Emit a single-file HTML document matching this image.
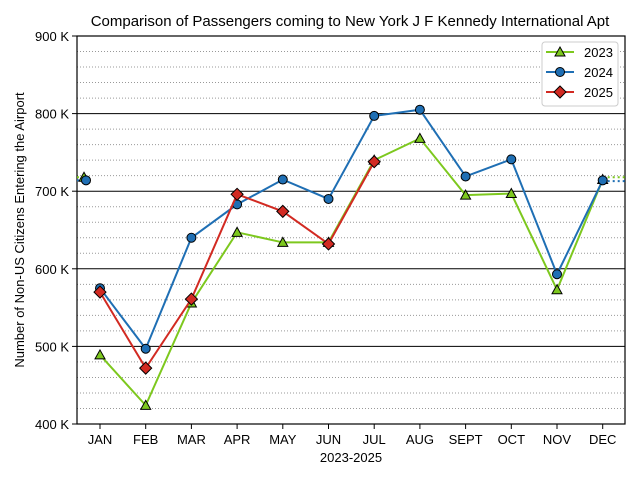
<!DOCTYPE html>
<html><head><meta charset="utf-8"><style>
body{margin:0;background:#fff;}
svg{font-family:"Liberation Sans",sans-serif;}
</style></head><body>
<svg id="chart" width="640" height="480"></svg>
<script>
const categories=["JAN","FEB","MAR","APR","MAY","JUN","JUL","AUG","SEPT","OCT","NOV","DEC"];
const s2023=[489,424,556,647,634,634,740,768,695,697,573,715];
const s2024=[575,497,640,683,715,690,797,805,719,741,593,714];
const s2025=[570,472,561,696,674,632,738];
const wrapPrev2023=718, wrapPrev2024=714;
const yTicks=[400,500,600,700,800,900];
const yTickLabels=["400 K","500 K","600 K","700 K","800 K","900 K"];
const NS="http://www.w3.org/2000/svg";
const svg=document.getElementById('chart');
const L=77,R=625,T=36,B=424;
const x=i=>100+i*45.7;
const y=v=>B-(v-400)*(B-T)/500;
function mk(t,a,p){const e=document.createElementNS(NS,t);for(const k in a)e.setAttribute(k,a[k]);(p||svg).appendChild(e);return e;}
for(let v=420;v<900;v+=20){if(v%100===0)continue;
const g=mk('line',{x1:L,x2:R,y1:y(v),y2:y(v),stroke:'#999','stroke-dasharray':'1,2','stroke-width':1});

}
yTicks.forEach((v,i)=>{
const g=mk('line',{x1:L,x2:R,y1:y(v),y2:y(v),stroke:'#000','stroke-width':1});


mk('line',{x1:L-5,x2:L,y1:y(v),y2:y(v),stroke:'#000'});
const t=mk('text',{x:L-8,y:y(v)+5,'text-anchor':'end','font-size':13});t.textContent=yTickLabels[i];

});
categories.forEach((c,i)=>{
mk('line',{x1:x(i),x2:x(i),y1:B,y2:B+5,stroke:'#000'});
const t=mk('text',{x:x(i),y:B+20,'text-anchor':'middle','font-size':13});t.textContent=c;

});
mk('rect',{x:L,y:T,width:R-L,height:B-T,fill:'none',stroke:'#000','stroke-width':1.2});
const cols={a:'#7dc81e',b:'#1f6fb4',c:'#d22a22'};
function dotted(v,col,x1,x2){mk('line',{x1:x1,x2:x2,y1:y(v),y2:y(v),stroke:col,'stroke-width':2,'stroke-dasharray':'2,3'});}
dotted(wrapPrev2023,cols.a,L,86);dotted(wrapPrev2024,cols.b,L,86);
dotted(s2023[11]+3,cols.a,x(11),R);dotted(s2024[11]-1,cols.b,x(11),R);
function marker(kind,cx,cy,col,g){
if(kind==='tri')return mk('polygon',{points:`${cx},${cy-5} ${cx+5},${cy+4} ${cx-5},${cy+4}`,fill:col,stroke:'#000','stroke-width':1},g);
if(kind==='circ')return mk('circle',{cx:cx,cy:cy,r:4.5,fill:col,stroke:'#000','stroke-width':1},g);
return mk('polygon',{points:`${cx},${cy-6} ${cx+6},${cy} ${cx},${cy+6} ${cx-6},${cy}`,fill:col,stroke:'#000','stroke-width':1},g);}
marker('tri',84,y(wrapPrev2023),cols.a);marker('circ',86,y(wrapPrev2024),cols.b);
function series(data,col,kind,name){
const g=mk('g',{});
mk('polyline',{points:data.map((v,i)=>x(i)+','+y(v)).join(' '),fill:'none',stroke:col,'stroke-width':2},g);
data.forEach((v,i)=>{const m=marker(kind,x(i),y(v),col,g);

});}
series(s2023,cols.a,'tri','series-2023');
series(s2024,cols.b,'circ','series-2024');
series(s2025,cols.c,'dia','series-2025');
const lg=mk('g',{});
mk('rect',{x:542,y:42,width:76,height:64,rx:3,fill:'#fff',stroke:'#ccc'},lg);
[["2023",cols.a,'tri'],["2024",cols.b,'circ'],["2025",cols.c,'dia']].forEach((e,i)=>{
const yy=52+i*20;mk('line',{x1:546,x2:574,y1:yy,y2:yy,stroke:e[1],'stroke-width':2},lg);
marker(e[2],560,yy,e[1],lg);
const t=mk('text',{x:584,y:yy+5,'font-size':13},lg);t.textContent=e[0];

});
const ti=mk('text',{x:350,y:26,'text-anchor':'middle','font-size':15});ti.textContent='Comparison of Passengers coming to New York J F Kennedy International Apt';

const xl=mk('text',{x:351,y:462,'text-anchor':'middle','font-size':13});xl.textContent='2023-2025';

const yl=mk('text',{x:24,y:230,'text-anchor':'middle','font-size':13,transform:'rotate(-90 24 230)'});yl.textContent='Number of Non-US Citizens Entering the Airport';

</script>
</body></html>
